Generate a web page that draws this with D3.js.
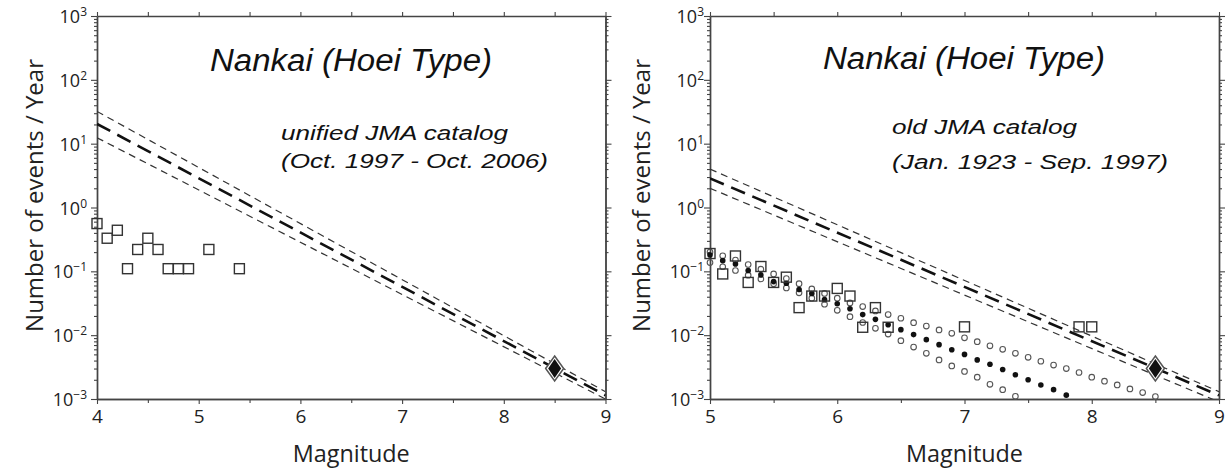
<!DOCTYPE html>
<html>
<head>
<meta charset="utf-8">
<script src="https://cdn.jsdelivr.net/npm/d3@7"></script>
<style>
  body { margin: 0; background: #fff; }
  svg { display: block; }
</style>
</head>
<body>
<svg id="chart" width="1227" height="473"></svg>
<script>
// ---- data ----
// left: unified JMA catalog, observed rates
const unifiedMags = [4.0, 4.1, 4.2, 4.3, 4.4, 4.5, 4.6, 4.7, 4.8, 4.9, 5.1, 5.4];
const unifiedRates = [0.56, 0.33, 0.44, 0.11, 0.22, 0.33, 0.22, 0.11, 0.11, 0.11, 0.22, 0.11];

// right: old JMA catalog, observed rates
const oldMags = [5.0, 5.1, 5.2, 5.3, 5.4, 5.5, 5.6, 5.7, 5.8, 5.9, 6.0, 6.1, 6.2, 6.3, 6.4, 7.0, 7.9, 8.0];
const oldRates = [0.19, 0.091, 0.174, 0.067, 0.119, 0.067, 0.081, 0.027, 0.041, 0.041, 0.054, 0.041, 0.0133, 0.027, 0.0133, 0.0135, 0.0135, 0.0135];

// right: model rates (filled dots) and its upper / lower bounds (open circles)
const modelMags = [5.0, 5.1, 5.2, 5.3, 5.4, 5.5, 5.6, 5.7, 5.8, 5.9, 6.0, 6.1, 6.2, 6.3, 6.4, 6.5, 6.6, 6.7, 6.8, 6.9, 7.0, 7.1, 7.2, 7.3, 7.4, 7.5, 7.6, 7.7, 7.8];
const modelRates = [0.18, 0.147, 0.13, 0.103, 0.088, 0.069, 0.065, 0.052, 0.045, 0.036, 0.031, 0.026, 0.021, 0.0177, 0.0146, 0.0122, 0.0102, 0.0085, 0.0071, 0.0059, 0.0050, 0.0041, 0.0035, 0.0029, 0.0024, 0.0020, 0.00166, 0.0014, 0.00115];

const upperMags = [5.0, 5.1, 5.2, 5.3, 5.4, 5.5, 5.6, 5.7, 5.8, 5.9, 6.0, 6.1, 6.2, 6.3, 6.4, 6.5, 6.6, 6.7, 6.8, 6.9, 7.0, 7.1, 7.2, 7.3, 7.4, 7.5, 7.6, 7.7, 7.8, 7.9, 8.0, 8.1, 8.2, 8.3, 8.4, 8.5];
const upperRates = [0.20, 0.175, 0.15, 0.128, 0.108, 0.091, 0.077, 0.064, 0.053, 0.045, 0.038, 0.032, 0.028, 0.024, 0.021, 0.0184, 0.0157, 0.0139, 0.0121, 0.0107, 0.0091, 0.0079, 0.0068, 0.0060, 0.0052, 0.0045, 0.0039, 0.0034, 0.0030, 0.0026, 0.0022, 0.0019, 0.00166, 0.00144, 0.00126, 0.00109];

const lowerMags = [5.0, 5.1, 5.2, 5.3, 5.4, 5.5, 5.6, 5.7, 5.8, 5.9, 6.0, 6.1, 6.2, 6.3, 6.4, 6.5, 6.6, 6.7, 6.8, 6.9, 7.0, 7.1, 7.2, 7.3, 7.4];
const lowerRates = [0.137, 0.118, 0.103, 0.087, 0.076, 0.064, 0.055, 0.046, 0.038, 0.0305, 0.0245, 0.0195, 0.0158, 0.0128, 0.0104, 0.0082, 0.0065, 0.0052, 0.0041, 0.0033, 0.0027, 0.0022, 0.0017, 0.0014, 0.0011];

// Gutenberg-Richter fits (end points) with their bounds
const fitMagsLeft = [4, 9];
const fitMidLeft = [20.4, 0.00114];
const fitUpLeft = [32, 0.0013];
const fitLowLeft = [12.4, 0.0010];
const fitMagsRight = [5, 9];
const fitMidRight = [2.86, 0.00114];
const fitUpRight = [4.0, 0.0013];
const fitLowRight = [2.0, 0.0009];

// Hoei earthquake
const hoeiMag = 8.5;
const hoeiRate = 0.003;

// ticks / labels
const xTicksLeft = [4, 5, 6, 7, 8, 9];
const xMinorLeft = [4.5, 5.5, 6.5, 7.5, 8.5];
const xTicksRight = [5, 6, 7, 8, 9];
const xMinorRight = [5.5, 6.5, 7.5, 8.5];
const yTicks = [1e-3, 1e-2, 1e-1, 1, 10, 100, 1000];
const yExponents = ["\u22123", "\u22122", "\u22121", "0", "1", "2", "3"];

const titleText = "Nankai (Hoei Type)";
const catalogNames = ["unified JMA catalog", "old JMA catalog"];
const catalogPeriods = ["(Oct. 1997 - Oct. 2006)", "(Jan. 1923 - Sep. 1997)"];
const xLabel = "Magnitude";
const yLabel = "Number of events / Year";

const tickFont = "'Open Sans', 'Noto Sans', sans-serif";
const italicFont = "'Liberation Sans', Arial, sans-serif";
const axisColor = "#444";

function drawPanel(svg, p) {
  const x = d3.scaleLinear().domain(p.xDomain).range([p.left, p.right]);
  const y = d3.scaleLog().domain([1e-3, 1e3]).range([p.bottom, p.top]);
  const yMinor = y.ticks().filter(v => !yTicks.includes(v));

  const g = svg.append('g');

  // clip for the fit lines
  g.append('clipPath').attr('id', p.id + '-clip')
    .append('rect')
    .attr('x', p.left).attr('y', p.top)
    .attr('width', p.right - p.left).attr('height', p.bottom - p.top);

  // axes
  const axes = g.append('g').attr('class', 'axes');
  axes.append('g').attr('transform', `translate(0,${p.bottom})`)
    .call(d3.axisBottom(x).tickValues(p.xTicks).tickSize(5).tickSizeOuter(0).tickPadding(6).tickFormat(d3.format('d')));
  axes.append('g').attr('transform', `translate(0,${p.bottom})`)
    .call(d3.axisBottom(x).tickValues(p.xMinor).tickSize(4).tickSizeOuter(0).tickFormat(''));
  axes.append('g').attr('transform', `translate(0,${p.top})`)
    .call(d3.axisTop(x).tickValues(p.xTicks.concat(p.xMinor)).tickSize(4).tickSizeOuter(0).tickFormat(''));
  axes.append('g').attr('transform', `translate(${p.left},0)`)
    .call(d3.axisLeft(y).tickValues(yTicks).tickSize(6).tickSizeOuter(0).tickFormat(''));
  axes.append('g').attr('transform', `translate(${p.left},0)`)
    .call(d3.axisLeft(y).tickValues(yMinor).tickSize(3).tickSizeOuter(0).tickFormat(''));
  axes.append('g').attr('transform', `translate(${p.right},0)`)
    .call(d3.axisRight(y).tickValues(yTicks).tickSize(6).tickSizeOuter(0).tickFormat(''));
  axes.append('g').attr('transform', `translate(${p.right},0)`)
    .call(d3.axisRight(y).tickValues(yMinor).tickSize(3).tickSizeOuter(0).tickFormat(''));

  axes.selectAll('path.domain').attr('stroke', axisColor).attr('stroke-width', 1.4);
  axes.selectAll('.tick line').attr('stroke', axisColor).attr('stroke-width', 1.1);
  axes.selectAll('.tick text')
    .attr('fill', '#222')
    .style('font-family', tickFont)
    .style('font-size', '19px');

  // y tick labels 10^n
  const yl = g.append('g');
  yTicks.forEach((v, i) => {
    const t = yl.append('text')
      .attr('x', p.left - p.yLabelGap)
      .attr('y', y(v) + 7)
      .attr('text-anchor', 'end')
      .attr('fill', '#222')
      .style('font-family', tickFont)
      .style('font-size', '18px');
    t.append('tspan').text('10');
    t.append('tspan').attr('dy', -7).style('font-size', '12px').text(yExponents[i]);
  });

  // fit lines
  const line = d3.line().x(d => x(d[0])).y(d => y(d[1]));
  const lines = g.append('g').attr('clip-path', `url(#${p.id}-clip)`);
  [p.fitUp, p.fitLow].forEach(vals => {
    lines.append('path')
      .attr('d', line(p.fitMags.map((m, i) => [m, vals[i]])))
      .attr('fill', 'none')
      .attr('stroke', '#333')
      .attr('stroke-width', 1.2)
      .attr('stroke-dasharray', '7,5');
  });
  lines.append('path')
    .attr('d', line(p.fitMags.map((m, i) => [m, p.fitMid[i]])))
    .attr('fill', 'none')
    .attr('stroke', '#111')
    .attr('stroke-width', 2.6)
    .attr('stroke-dasharray', '15,8');

  // model bounds (open circles) and model (filled dots)
  if (p.upperMags) {
    [[p.upperMags, p.upperRates], [p.lowerMags, p.lowerRates]].forEach(([ms, rs]) => {
      g.append('g').selectAll('circle')
        .data(ms.map((m, i) => [m, rs[i]]))
        .enter().append('circle')
        .attr('cx', d => x(d[0]))
        .attr('cy', d => y(d[1]))
        .attr('r', 2.8)
        .attr('fill', 'none')
        .attr('stroke', '#555')
        .attr('stroke-width', 1.1);
    });
    g.append('g').selectAll('circle')
      .data(p.modelMags.map((m, i) => [m, p.modelRates[i]]))
      .enter().append('circle')
      .attr('cx', d => x(d[0]))
      .attr('cy', d => y(d[1]))
      .attr('r', 2.8)
      .attr('fill', '#111');
  }

  // observed rates (squares)
  g.append('g').selectAll('rect')
    .data(p.obsMags.map((m, i) => [m, p.obsRates[i]]))
    .enter().append('rect')
    .attr('x', d => x(d[0]) - 5)
    .attr('y', d => y(d[1]) - 5)
    .attr('width', 10)
    .attr('height', 10)
    .attr('fill', 'none')
    .attr('stroke', '#333')
    .attr('stroke-width', 1.4);

  // Hoei event
  const hx = x(hoeiMag), hy = y(hoeiRate);
  const diamond = (w, h) => `M${hx},${hy - h}L${hx + w},${hy}L${hx},${hy + h}L${hx - w},${hy}Z`;
  g.append('path').attr('d', diamond(9, 12.5))
    .attr('fill', '#fff').attr('stroke', '#555').attr('stroke-width', 1.5);
  g.append('path').attr('d', diamond(6.5, 9.5))
    .attr('fill', '#111');

  // texts
  g.append('text')
    .attr('x', p.left + 113).attr('y', p.titleY)
    .attr('textLength', 282).attr('lengthAdjust', 'spacingAndGlyphs')
    .attr('fill', '#111')
    .style('font-family', italicFont).style('font-style', 'italic').style('font-size', '31px')
    .text(titleText);
  g.append('text')
    .attr('x', p.left + p.subX).attr('y', p.sub1Y)
    .attr('textLength', p.sub1Len).attr('lengthAdjust', 'spacingAndGlyphs')
    .attr('fill', '#111')
    .style('font-family', italicFont).style('font-style', 'italic').style('font-size', '20px')
    .text(p.catalog);
  g.append('text')
    .attr('x', p.left + p.subX).attr('y', p.sub2Y)
    .attr('textLength', p.sub2Len).attr('lengthAdjust', 'spacingAndGlyphs')
    .attr('fill', '#111')
    .style('font-family', italicFont).style('font-style', 'italic').style('font-size', '20px')
    .text(p.period);

  g.append('text')
    .attr('x', (p.left + p.right) / 2).attr('y', 462)
    .attr('text-anchor', 'middle')
    .attr('textLength', 117).attr('lengthAdjust', 'spacingAndGlyphs')
    .attr('fill', '#222')
    .style('font-family', tickFont).style('font-size', '24px')
    .text(xLabel);
  g.append('text')
    .attr('transform', `translate(${p.left - p.yTitleGap},59) rotate(-90)`)
    .attr('text-anchor', 'end')
    .attr('fill', '#222')
    .style('font-family', tickFont).style('font-size', '24px')
    .text(yLabel);
}

const svg = d3.select('#chart');

drawPanel(svg, {
  id: 'left', left: 97, right: 605.5, top: 16, bottom: 399,
  xDomain: [4, 9], xTicks: xTicksLeft, xMinor: xMinorLeft,
  yLabelGap: 10, yTitleGap: 54,
  fitMags: fitMagsLeft, fitMid: fitMidLeft, fitUp: fitUpLeft, fitLow: fitLowLeft,
  obsMags: unifiedMags, obsRates: unifiedRates,
  titleY: 70.5, subX: 184, sub1Y: 140, sub2Y: 168, sub1Len: 227, sub2Len: 267,
  catalog: catalogNames[0], period: catalogPeriods[0]
});

drawPanel(svg, {
  id: 'right', left: 710, right: 1219, top: 16, bottom: 399,
  xDomain: [5, 9], xTicks: xTicksRight, xMinor: xMinorRight,
  yLabelGap: 6, yTitleGap: 60,
  fitMags: fitMagsRight, fitMid: fitMidRight, fitUp: fitUpRight, fitLow: fitLowRight,
  obsMags: oldMags, obsRates: oldRates,
  modelMags: modelMags, modelRates: modelRates,
  upperMags: upperMags, upperRates: upperRates,
  lowerMags: lowerMags, lowerRates: lowerRates,
  titleY: 69, subX: 182, sub1Y: 134, sub2Y: 169, sub1Len: 185, sub2Len: 276,
  catalog: catalogNames[1], period: catalogPeriods[1]
});
</script>
</body>
</html>
